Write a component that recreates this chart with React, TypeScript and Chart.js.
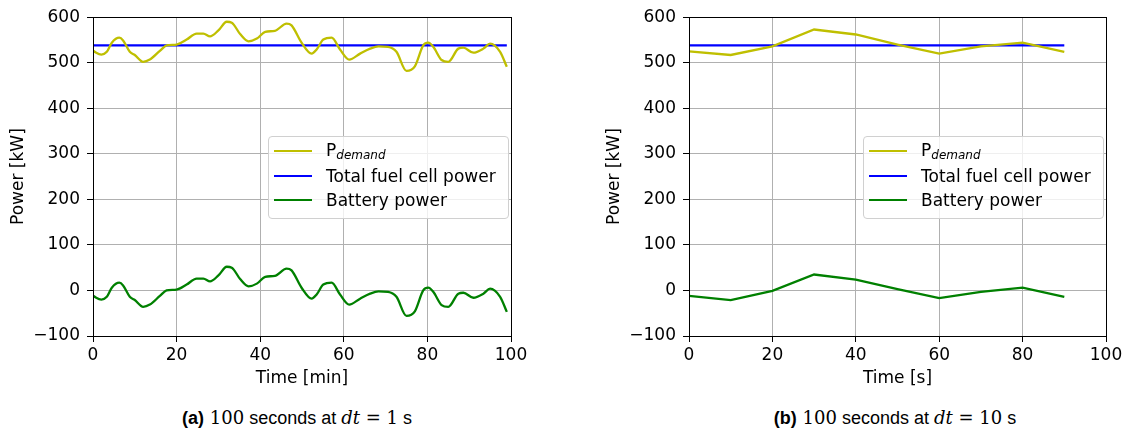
import React, { useEffect, useRef } from "react";
import { Chart, registerables } from "chart.js";

Chart.register(...registerables);

// ---- data ----
const leftTime = [0, 2, 3.3, 4.5, 6.3, 7.2, 8.8, 10, 12, 13.6, 16, 17.6, 20, 22.4, 24.8, 26.4, 28, 30, 32, 33.2, 35.2, 37.2, 39.2, 41.2, 43.5, 46.3, 47.5, 49.9, 52.3, 53.5, 55.1, 57.1, 59.1, 61.3, 63.9, 66.3, 68.3, 70.6, 72.6, 75, 77, 79, 80.2, 81.4, 83.4, 85, 87.4, 88.6, 91, 93.4, 95, 97.4, 99];
const leftDemand = [526, 518, 524, 544, 555, 549, 524, 517, 502, 507, 526, 538, 540, 551, 564, 564, 558, 571, 590, 588, 563, 547, 553, 568, 570, 586, 582, 544, 520, 529, 551, 555, 529, 507, 520, 531, 536, 535, 524, 482, 492, 538, 544, 535, 506, 502, 531, 533, 522, 531, 542, 524, 491];
const leftBattery = [-12, -20, -14, 6, 17, 11, -14, -21, -36, -31, -12, 0, 2, 13, 26, 26, 20, 33, 52, 50, 25, 9, 15, 30, 32, 48, 44, 6, -18, -9, 13, 17, -9, -31, -18, -7, -2, -3, -14, -56, -46, 0, 6, -3, -32, -36, -7, -5, -16, -7, 4, -14, -47];
const leftFuelTime = [0, 99];
const leftFuel = [538, 538];

const rightTime = [0, 10, 20, 30, 40, 50, 60, 70, 80, 90];
const rightDemand = [525, 517, 536, 573, 562, 540, 520, 536, 544, 524];
const rightBattery = [-12, -21, -1, 35, 24, 3, -17, -3, 6, -14];
const rightFuelTime = [0, 90];
const rightFuel = [538, 538];

const xTicks = [0, 20, 40, 60, 80, 100];
const yTicks = [-100, 0, 100, 200, 300, 400, 500, 600];

const FONT = "'DejaVu Sans', sans-serif";
const SANS = "'Liberation Sans', Arial, sans-serif";
const SERIF = "'DejaVu Serif', 'Liberation Serif', serif";
const FS = 17;
const YELLOW = "#bfbf00";
const BLUE = "#0000ff";
const GREEN = "#008000";

const pts = (xs: number[], ys: number[]) => xs.map((x, i) => ({ x, y: ys[i] }));

const boxPlugin = {
  id: "box",
  afterDraw(chart: any) {
    const { ctx, chartArea: a } = chart;
    ctx.save();
    ctx.strokeStyle = "#000";
    ctx.lineWidth = 1;
    ctx.strokeRect(Math.round(a.left) + 0.5, Math.round(a.top) + 0.5, Math.round(a.right - a.left), Math.round(a.bottom - a.top));
    ctx.restore();
  },
};

type PanelProps = {
  time: number[];
  demand: number[];
  battery: number[];
  fuelTime: number[];
  fuel: number[];
  xTitle: string;
  smooth: boolean;
  padLeft: number;
  padRight: number;
};

function Panel(p: PanelProps) {
  const ref = useRef<HTMLCanvasElement | null>(null);
  useEffect(() => {
    if (!ref.current) return;
    const mode = p.smooth ? "monotone" : "default";
    const chart = new Chart(ref.current, {
      type: "line",
      data: {
        datasets: [
          { label: "P_demand", data: pts(p.time, p.demand), borderColor: YELLOW, borderWidth: 2.3, pointRadius: 0, cubicInterpolationMode: mode as any, tension: 0 },
          { label: "Total fuel cell power", data: pts(p.fuelTime, p.fuel), borderColor: BLUE, borderWidth: 2.3, pointRadius: 0 },
          { label: "Battery power", data: pts(p.time, p.battery), borderColor: GREEN, borderWidth: 2.3, pointRadius: 0, cubicInterpolationMode: mode as any, tension: 0 },
        ],
      },
      options: {
        animation: false,
        responsive: true,
        maintainAspectRatio: false,
        layout: { padding: { left: p.padLeft, right: p.padRight, top: 17, bottom: 0 } },
        plugins: { legend: { display: false }, tooltip: { enabled: false } },
        scales: {
          x: {
            type: "linear",
            min: 0,
            max: 100,
            afterBuildTicks: (s: any) => { s.ticks = xTicks.map((v) => ({ value: v })); },
            afterFit: (s: any) => { s.height = 59; },
            grid: { color: "#b0b0b0", lineWidth: 1, tickColor: "#000", tickLength: 6 },
            border: { display: false },
            ticks: { color: "#000", font: { family: FONT, size: FS }, padding: 3, maxRotation: 0 },
            title: { display: true, text: p.xTitle, color: "#000", font: { family: FONT, size: FS }, padding: { top: 0, bottom: 6 } },
          },
          y: {
            type: "linear",
            min: -100,
            max: 600,
            afterBuildTicks: (s: any) => { s.ticks = yTicks.map((v) => ({ value: v })); },
            afterFit: (s: any) => { s.width = 93; },
            grid: { color: "#b0b0b0", lineWidth: 1, tickColor: "#000", tickLength: 6 },
            border: { display: false },
            ticks: {
              color: "#000",
              font: { family: FONT, size: FS },
              padding: 7,
              callback: (v: any) => String(v).replace("-", "\u2212"),
            },
            title: { display: true, text: "Power [kW]", color: "#000", font: { family: FONT, size: FS }, padding: { top: 8, bottom: 0 } },
          },
        },
      },
      plugins: [boxPlugin],
    });
    return () => chart.destroy();
  }, []);
  return <canvas ref={ref} />;
}

function Legend({ left }: { left: number }) {
  const row: React.CSSProperties = { display: "flex", alignItems: "center", height: 24.5 };
  const handle = (c: string): React.CSSProperties => ({ width: 38, height: 2.3, background: c, marginRight: 14, flex: "none" });
  return (
    <div
      style={{
        position: "absolute",
        left,
        top: 136,
        width: 241,
        height: 83,
        boxSizing: "border-box",
        border: "1px solid #d0d0d0",
        borderRadius: 4,
        background: "rgba(255,255,255,0.8)",
        padding: "2px 0 0 5px",
        fontFamily: FONT,
        fontSize: FS,
        color: "#000",
        whiteSpace: "nowrap",
      }}
    >
      <div style={row}>
        <div style={handle(YELLOW)} />
        <span>
          P<sub style={{ fontStyle: "italic", fontSize: 12, verticalAlign: "-3px" }}>demand</sub>
        </span>
      </div>
      <div style={row}>
        <div style={handle(BLUE)} />
        <span>Total fuel cell power</span>
      </div>
      <div style={row}>
        <div style={handle(GREEN)} />
        <span>Battery power</span>
      </div>
    </div>
  );
}

function Caption({ label, dt, center }: { label: string; dt: string; center: number }) {
  const serif: React.CSSProperties = { fontFamily: SERIF };
  const sans: React.CSSProperties = { fontFamily: SANS };
  return (
    <div
      style={{
        position: "absolute",
        left: center - 200,
        width: 400,
        top: 407,
        lineHeight: "22px",
        textAlign: "center",
        fontFamily: SANS,
        fontSize: 18,
        color: "#000",
        whiteSpace: "pre",
      }}
    >
      <b style={sans}>{label}</b>
      <span style={serif}> 100</span>
      <span style={sans}> seconds at </span>
      <span style={{ ...serif, fontStyle: "italic" }}>dt</span>
      <span style={serif}> = {dt}</span>
      <span style={sans}> s</span>
    </div>
  );
}

export default function App() {
  useEffect(() => {
    document.body.style.margin = "0";
  }, []);
  return (
    <div style={{ position: "relative", width: 1127, height: 431, background: "#fff", overflow: "hidden" }}>
      <div style={{ position: "absolute", left: 0, top: 0, width: 560, height: 395 }}>
        <Panel time={leftTime} demand={leftDemand} battery={leftBattery} fuelTime={leftFuelTime} fuel={leftFuel} xTitle="Time [min]" smooth={true} padLeft={0} padRight={49} />
      </div>
      <div style={{ position: "absolute", left: 560, top: 0, width: 567, height: 395 }}>
        <Panel time={rightTime} demand={rightDemand} battery={rightBattery} fuelTime={rightFuelTime} fuel={rightFuel} xTitle="Time [s]" smooth={false} padLeft={36} padRight={21} />
      </div>
      <Legend left={268} />
      <Legend left={863} />
      <Caption label="(a)" dt="1" center={297} />
      <Caption label="(b)" dt="10" center={895} />
    </div>
  );
}
